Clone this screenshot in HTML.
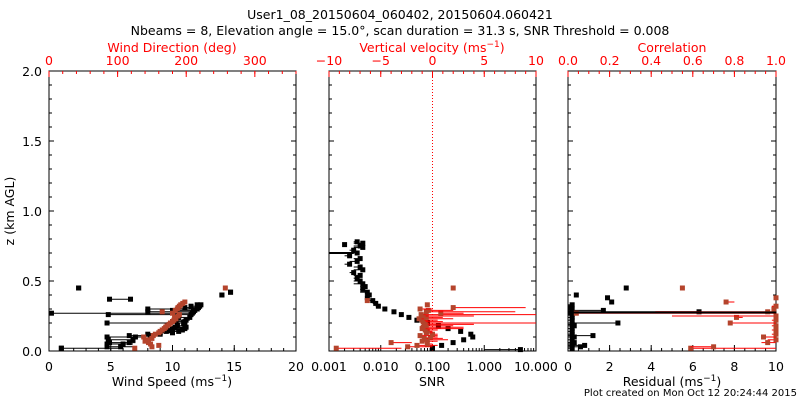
<!DOCTYPE html>
<html><head><meta charset="utf-8">
<style>
html,body{margin:0;padding:0;background:#fff;}
svg{display:block;font-family:"DejaVu Sans","Liberation Sans",sans-serif;}
text{font-size:12.5px;}
</style></head>
<body>
<svg id="c" width="800" height="400" viewBox="0 0 800 400">
<text x="400" y="19" text-anchor="middle">User1_08_20150604_060402, 20150604.060421</text>
<text x="400" y="35" text-anchor="middle">Nbeams = 8, Elevation angle = 15.0°, scan duration = 31.3 s, SNR Threshold = 0.008</text>
<text x="797" y="396" text-anchor="end" style="font-size:10px">Plot created on Mon Oct 12 20:24:44 2015</text>
<g id="g"></g>
</svg>
<script>
// ---- data ----
const zTicks=[0,0.5,1.0,1.5,2.0];
const wsZ=[0.02,0.03,0.05,0.06,0.08,0.10,0.11,0.12,0.13,0.14,0.15,0.16,0.17,0.18,0.20,0.21,0.22,0.24,0.26,0.27,0.28,0.29,0.30,0.31,0.32,0.33,0.37,0.40,0.42,0.45];
const wsV=[1.0,5.8,6.0,6.5,6.8,7.0,8.2,9.0,10.0,10.5,10.8,11.0,11.1,11.0,10.9,11.0,11.1,11.4,11.5,11.6,11.7,11.8,12.0,12.1,12.2,12.3,6.6,14.0,14.7,2.4];
const wsLo=[1.0,4.7,4.7,4.9,4.8,4.7,6.5,8.0,9.0,9.5,9.8,10.0,10.2,10.4,4.7,10.0,10.3,10.5,4.8,0.2,8.0,10.0,8.0,11.0,11.5,12.0,4.9,14.0,14.7,2.4];
const wsHi=[6.0,7.0,6.8,7.0,7.0,7.5,8.5,9.2,10.2,10.7,11.0,11.2,11.3,11.2,11.0,11.2,11.4,11.6,11.8,11.8,12.0,12.0,12.2,12.3,12.4,12.5,6.6,14.0,14.7,2.4];
const wdZ=[0.02,0.03,0.04,0.05,0.06,0.07,0.08,0.09,0.10,0.11,0.12,0.13,0.14,0.15,0.16,0.17,0.18,0.19,0.20,0.21,0.22,0.23,0.24,0.25,0.26,0.27,0.28,0.29,0.30,0.31,0.32,0.33,0.34,0.35,0.45];
const wdV=[125,150,160,148,145,140,145,150,138,152,155,160,162,165,168,170,172,175,177,180,182,185,183,188,190,180,165,184,187,188,190,192,195,198,257];
const snrZ=[0.78,0.77,0.76,0.75,0.74,0.72,0.70,0.68,0.66,0.64,0.62,0.60,0.58,0.56,0.54,0.52,0.50,0.48,0.46,0.44,0.42,0.40,0.38,0.36,0.34,0.32,0.30,0.28,0.26,0.24,0.22,0.20,0.18,0.16,0.14,0.12,0.10,0.08,0.06,0.04,0.02,0.01];
const snrV=[0.0035,0.0045,0.002,0.004,0.0045,0.003,0.0035,0.0025,0.004,0.0035,0.0025,0.004,0.0045,0.003,0.004,0.0035,0.004,0.0045,0.005,0.0045,0.0055,0.006,0.0055,0.007,0.008,0.009,0.012,0.018,0.025,0.035,0.05,0.08,0.13,0.2,0.35,0.55,0.6,0.4,0.25,0.15,0.1,5.0];
const snrLo=[0.003,0.003,0.002,0.003,0.003,0.0025,0.001,0.002,0.003,0.0025,0.002,0.003,0.003,0.0025,0.003,0.003,0.003,0.003,0.004,0.004,0.004,0.005,0.005,0.006,0.007,0.008,0.011,0.017,0.024,0.034,0.05,0.08,0.13,0.2,0.35,0.55,0.6,0.4,0.25,0.15,0.1,1.0];
const wZ=[0.02,0.03,0.04,0.05,0.06,0.07,0.08,0.09,0.10,0.11,0.12,0.13,0.14,0.15,0.16,0.17,0.18,0.19,0.20,0.21,0.22,0.23,0.24,0.25,0.26,0.27,0.28,0.29,0.30,0.31,0.33,0.36,0.45];
const wV=[-9.3,-2.4,-1.5,-0.5,-4.0,-1.0,-0.5,-0.8,-0.2,-1.2,0.0,-0.6,-0.5,-0.7,-1.0,-0.9,-0.6,-0.8,-0.7,-0.9,-1.0,-1.3,-0.6,-0.9,-1.1,0.8,-0.6,-0.4,-1.2,2.0,-0.5,-6.3,2.0];
const wHi=[-3.0,0.0,0.5,0.0,-2.0,0.5,1.5,1.0,0.5,0.5,0.5,0.0,0.0,0.5,3.0,3.0,2.0,4.0,10.0,1.0,0.5,2.0,1.0,4.0,10.0,3.0,8.0,2.0,0.0,9.0,-0.5,-6.3,2.0];
const resZ=[0.02,0.03,0.04,0.05,0.06,0.08,0.10,0.11,0.12,0.14,0.16,0.18,0.19,0.20,0.22,0.24,0.26,0.27,0.28,0.29,0.30,0.31,0.33,0.35,0.38,0.40,0.45];
const resV=[0.2,0.6,0.8,0.2,0.3,0.2,0.3,1.2,0.2,0.2,0.2,0.3,0.2,2.4,0.2,0.2,0.2,0.1,6.3,1.7,0.2,0.1,0.2,2.1,1.9,0.4,2.8];
const resLo=[0.0,0.0,0.0,0.0,0.0,0.0,0.0,0.0,0.0,0.0,0.0,0.0,0.0,0.0,0.0,0.0,0.0,0.0,0.0,0.0,0.0,0.0,0.0,2.1,1.9,0.4,2.8];
const corZ=[0.02,0.03,0.06,0.08,0.10,0.12,0.15,0.18,0.20,0.22,0.24,0.25,0.27,0.28,0.30,0.32,0.35,0.38,0.45];
const corV=[0.59,0.70,0.96,1.0,0.94,1.0,1.0,1.0,0.78,1.0,0.81,1.0,0.04,0.96,0.99,1.0,0.76,1.0,0.55];
const corLo=[0.59,0.59,0.93,0.96,0.93,0.98,0.98,0.98,0.78,0.98,0.81,0.50,0.04,0.42,0.98,0.98,0.76,1.0,0.55];
const corHi=[1.0,0.70,1.0,1.0,1.0,1.0,1.0,1.0,1.0,1.0,0.84,1.0,1.0,1.0,1.0,1.0,0.80,1.0,0.55];
// ---- drawing ----
const NS="http://www.w3.org/2000/svg",G=document.getElementById('g');
function el(t,a,p){const e=document.createElementNS(NS,t);for(const k in a)e.setAttribute(k,a[k]);(p||G).appendChild(e);return e;}
const Y0=351,Y1=71;
const yS=z=>Y0-(z/2)*(Y0-Y1);
const P=[{x0:49,x1:296},{x0:329,x1:536},{x0:568,x1:776}];
const lin=(p,a,b)=>v=>p.x0+(v-a)/(b-a)*(p.x1-p.x0);
const ws=lin(P[0],0,20),wd=lin(P[0],0,360),vv=lin(P[1],-10,10),cr=lin(P[2],0,1),rs=lin(P[2],0,10);
const snr=v=>P[1].x0+(Math.log10(v)+3)/4*(P[1].x1-P[1].x0);
const RED='#ff0000',BR='#b5442c';
function txt(x,y,s,col,anc,name){const t=el('text',{x,y,'text-anchor':anc||'middle',fill:col||'#000'});t.textContent=s;return t;}
P.forEach((p,i)=>{
  const r=el('rect',{x:p.x0,y:Y1,width:p.x1-p.x0,height:Y0-Y1,fill:'none',stroke:'#000'});
  
  
  zTicks.forEach(z=>{el('line',{x1:p.x0,x2:p.x0+5,y1:yS(z),y2:yS(z),stroke:'#000'});el('line',{x1:p.x1,x2:p.x1-5,y1:yS(z),y2:yS(z),stroke:'#000'});});
  for(let z=0.1;z<2;z+=0.1){el('line',{x1:p.x0,x2:p.x0+3,y1:yS(z),y2:yS(z),stroke:'#000'});el('line',{x1:p.x1,x2:p.x1-3,y1:yS(z),y2:yS(z),stroke:'#000'});}
});
zTicks.forEach(z=>txt(42,yS(z)+5,z.toFixed(1),'#000','end','y-tick-label'));
const yt=txt(14,211,'z (km AGL)','#000','middle','y-axis-title');yt.setAttribute('transform','rotate(-90 14 211)');
function xAxis(f,vals,labels,minor,top,col,name){
  const y=top?Y1:Y0,d=top?1:-1;
  vals.forEach((v,i)=>{el('line',{x1:f(v),x2:f(v),y1:y,y2:y+d*6,stroke:col});txt(f(v),top?y-6:y+20,labels[i],col,'middle',name);});
  minor.forEach(v=>el('line',{x1:f(v),x2:f(v),y1:y,y2:y+d*3,stroke:col}));
}
const rng=(a,b,s)=>{const r=[];for(let v=a;v<=b+1e-9;v+=s)r.push(v);return r;};
xAxis(ws,[0,5,10,15,20],['0','5','10','15','20'],rng(0,20,1),false,'#000','wind-speed-tick');
xAxis(wd,[0,100,200,300],['0','100','200','300'],rng(0,360,20),true,RED,'wind-direction-tick');
const dec=[0.001,0.01,0.1,1,10];
const snrMinor=[];dec.slice(0,4).forEach(d=>{for(let k=2;k<10;k++)snrMinor.push(d*k);});
xAxis(snr,dec,['0.001','0.010','0.100','1.000','10.000'],snrMinor,false,'#000','snr-tick');
xAxis(vv,[-10,-5,0,5,10],['−10','−5','0','5','10'],rng(-10,10,1),true,RED,'vertical-velocity-tick');
xAxis(rs,[0,2,4,6,8,10],['0','2','4','6','8','10'],rng(0,10,0.5),false,'#000','residual-tick');
xAxis(cr,[0,0.2,0.4,0.6,0.8,1.0],['0.0','0.2','0.4','0.6','0.8','1.0'],rng(0,1,0.05),true,RED,'correlation-tick');
function title(x,y,main,col,name){const t=txt(x,y,main,col,'middle',name);const s=el('tspan',{dy:-5,style:'font-size:9px'},t);s.textContent='−1';const s2=el('tspan',{dy:5},t);s2.textContent=')';return t;}
title(172,386,'Wind Speed (ms',"#000",'x-axis-title-wind-speed');
txt(432,386,'SNR','#000','middle','x-axis-title-snr');
title(672,386,'Residual (ms','#000','x-axis-title-residual');
txt(172,52,'Wind Direction (deg)',RED,'middle','x-axis-title-wind-direction');
title(432,52,'Vertical velocity (ms',RED,'x-axis-title-vertical-velocity');
txt(672,52,'Correlation',RED,'middle','x-axis-title-correlation');
el('line',{x1:vv(0),x2:vv(0),y1:Y1,y2:Y0,stroke:RED,'stroke-dasharray':'1,2'});
function pt(x,y,col,name){const r=el('rect',{x:x-2.5,y:y-2.5,width:5,height:5,fill:col});}
function clip(p,x){return Math.max(p.x0,Math.min(p.x1,x));}
wsZ.forEach((z,i)=>{el('line',{x1:ws(wsLo[i]),x2:ws(wsHi[i]),y1:yS(z),y2:yS(z),stroke:'#000'});pt(ws(wsLo[i]),yS(z),'#000','wind-speed-error-end');pt(ws(wsV[i]),yS(z),'#000','wind-speed-point');});
wdZ.forEach((z,i)=>pt(wd(wdV[i]),yS(z),BR,'wind-direction-point'));
snrZ.forEach((z,i)=>{el('line',{x1:snr(snrLo[i]),x2:snr(snrV[i]),y1:yS(z),y2:yS(z),stroke:'#000'});pt(snr(snrV[i]),yS(z),'#000','snr-point');});
el('line',{x1:P[1].x0,x2:snr(0.003),y1:yS(0.70),y2:yS(0.70),stroke:'#000','stroke-width':2});
wZ.forEach((z,i)=>{el('line',{x1:vv(wV[i]),x2:clip(P[1],vv(wHi[i])),y1:yS(z),y2:yS(z),stroke:RED});pt(vv(wV[i]),yS(z),BR,'vertical-velocity-point');});
resZ.forEach((z,i)=>{el('line',{x1:rs(resLo[i]),x2:rs(resV[i]),y1:yS(z),y2:yS(z),stroke:'#000'});pt(rs(resV[i]),yS(z),'#000','residual-point');});
corZ.forEach((z,i)=>{el('line',{x1:cr(corLo[i]),x2:clip(P[2],cr(corHi[i])),y1:yS(z),y2:yS(z),stroke:RED});pt(clip(P[2],cr(corV[i])),yS(z),BR,'correlation-point');});
el('line',{x1:P[2].x0,x2:P[2].x1,y1:yS(0.275),y2:yS(0.275),stroke:'#000','stroke-width':2});
</script>
</body></html>
